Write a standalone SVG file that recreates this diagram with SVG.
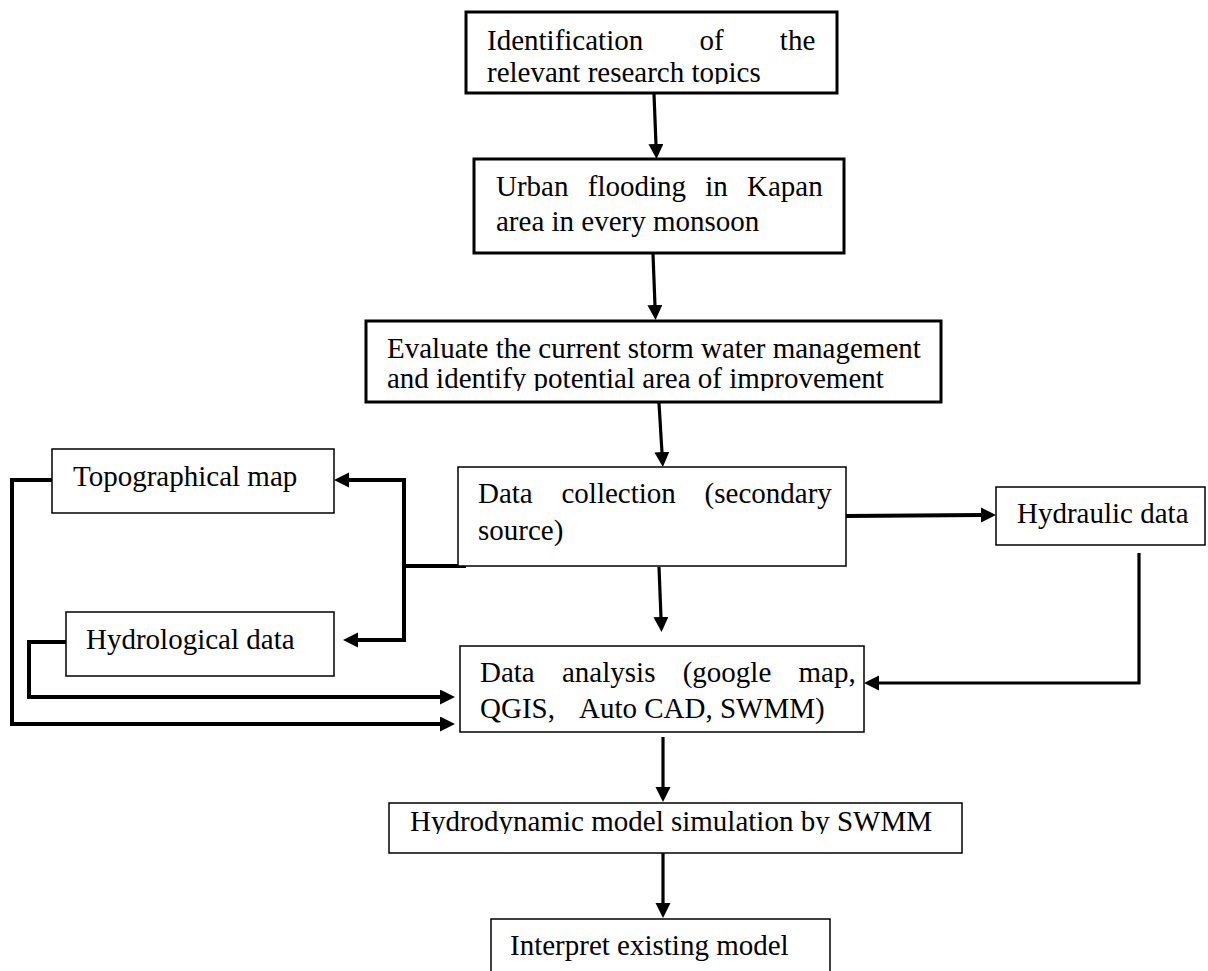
<svg xmlns="http://www.w3.org/2000/svg" width="1208" height="971" viewBox="0 0 1208 971">
<style>
.t{font-family:"Liberation Serif","Times New Roman",serif;font-size:29px;fill:#000}
.bx{fill:#fff;stroke:#000;stroke-width:1.5}
.bk{fill:#fff;stroke:#000;stroke-width:3}
.c{fill:none;stroke:#000;stroke-width:3.2;stroke-linecap:butt;stroke-linejoin:miter}
.cw{fill:none;stroke:#000;stroke-width:4;stroke-linecap:butt;stroke-linejoin:miter}
</style>
<defs>
<marker id="ah" markerUnits="userSpaceOnUse" markerWidth="15" markerHeight="16" refX="1" refY="7.5" orient="auto">
<path d="M0,0 L15,7.5 L0,15 z" fill="#000"/>
</marker>
<clipPath id="c1"><rect x="466" y="12" width="372" height="72"/></clipPath>
<clipPath id="c3"><rect x="366" y="321" width="576" height="70"/></clipPath>
<clipPath id="c7"><rect x="389" y="803" width="574" height="31"/></clipPath>
</defs>
<rect width="1208" height="971" fill="#fff"/>
<g id="connectors">
<line class="c" x1="654" y1="94" x2="656" y2="145" marker-end="url(#ah)"/>
<line class="c" x1="653" y1="254" x2="655" y2="306" marker-end="url(#ah)"/>
<line class="c" x1="659" y1="403" x2="662" y2="453" marker-end="url(#ah)"/>
<line class="cw" x1="846" y1="516" x2="982" y2="515" marker-end="url(#ah)"/>
<line class="c" x1="659" y1="567" x2="661" y2="618" marker-end="url(#ah)"/>
<line class="c" x1="663" y1="737" x2="663" y2="788" marker-end="url(#ah)"/>
<line class="c" x1="663" y1="853" x2="663" y2="904" marker-end="url(#ah)"/>
<polyline class="cw" points="466,566 404,566"/>
<polyline class="cw" points="404,640 404,480 348,480" marker-end="url(#ah)"/>
<polyline class="cw" points="404,566 404,640 357,640" marker-end="url(#ah)"/>
<polyline class="c" points="1139,553 1139,683 878,683" marker-end="url(#ah)"/>
<polyline class="cw" points="66,642 29,642 29,697 441,697" marker-end="url(#ah)"/>
<polyline class="cw" points="52,480 12,480 12,724 441,724" marker-end="url(#ah)"/>
</g>
<g id="n1">
<rect class="bk" x="466" y="12" width="371" height="81"/>
<text class="t" x="487" y="50" style="word-spacing:49px">Identification of the</text>
<text class="t" x="487" y="82" clip-path="url(#c1)">relevant research topics</text>
</g>
<g id="n2">
<rect class="bk" x="474" y="159" width="370" height="94"/>
<text class="t" x="496" y="196" style="word-spacing:12px">Urban flooding in Kapan</text>
<text class="t" x="496" y="231">area in every monsoon</text>
</g>
<g id="n3">
<rect class="bk" x="366" y="321" width="575" height="81"/>
<text class="t" x="387" y="358">Evaluate the current storm water management</text>
<text class="t" x="387" y="388" clip-path="url(#c3)">and identify potential area of improvement</text>
</g>
<g id="n4">
<rect class="bx" x="458" y="467" width="388" height="99"/>
<text class="t" x="478" y="503" style="word-spacing:21.5px">Data collection (secondary</text>
<text class="t" x="478" y="540">source)</text>
</g>
<g id="n5">
<rect class="bx" x="52" y="449" width="282" height="64"/>
<text class="t" x="73" y="486">Topographical map</text>
</g>
<g id="n6">
<rect class="bx" x="996" y="487" width="209" height="58"/>
<text class="t" x="1017" y="523">Hydraulic data</text>
</g>
<g id="n7">
<rect class="bx" x="66" y="612" width="268" height="64"/>
<text class="t" x="86" y="649">Hydrological data</text>
</g>
<g id="n8">
<rect class="bx" x="460" y="646" width="404" height="86"/>
<text class="t" x="480" y="682" style="word-spacing:20px">Data analysis (google map,</text>
<text class="t" x="480" y="718">QGIS,<tspan x="579">Auto CAD, SWMM)</tspan></text>
</g>
<g id="n9">
<rect class="bx" x="389" y="803" width="573" height="50"/>
<text class="t" x="410" y="831" clip-path="url(#c7)">Hydrodynamic model simulation by SWMM</text>
</g>
<g id="n10">
<rect class="bx" x="491" y="919" width="339" height="60"/>
<text class="t" x="510" y="955">Interpret existing model</text>
</g>
</svg>
